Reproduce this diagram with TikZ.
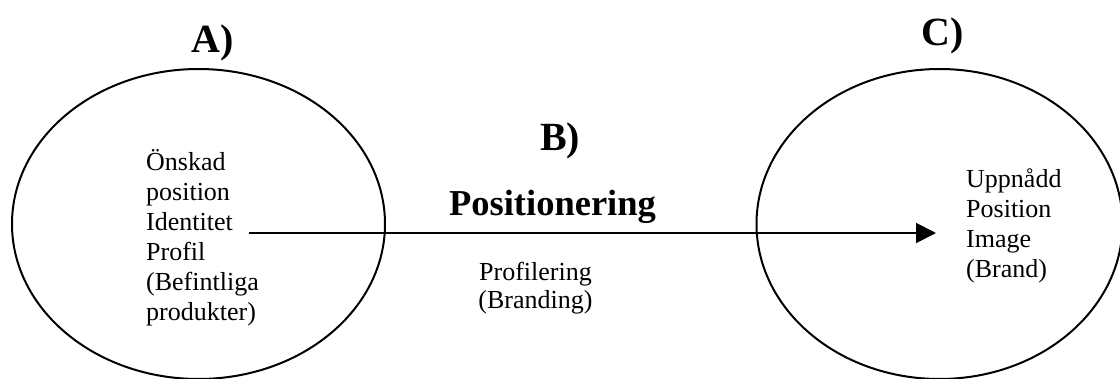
\documentclass[tikz,border=0pt]{standalone}
\usepackage{fontspec}
\setmainfont{Liberation Serif}
\usetikzlibrary{shapes.geometric,arrows.meta}
\begin{document}
\begin{tikzpicture}[x=1pt,y=-1pt,
  stage/.style={draw,ellipse,line width=2pt,inner sep=0pt},
  body/.style={inner sep=0pt,align=left,font=\fontsize{26}{30}\selectfont},
  mid/.style={inner sep=0pt,align=center,font=\fontsize{26}{28}\selectfont},
  label/.style={inner sep=0pt,anchor=base,font=\fontsize{40}{44}\selectfont\bfseries},
  title/.style={inner sep=0pt,anchor=base,font=\fontsize{36.5}{40}\selectfont\bfseries},
  flow/.style={line width=2pt,-{Triangle[length=20pt,width=20pt]}}]
\useasboundingbox (0,0) rectangle (1120,378);

% the two stages
\node[stage,minimum width=373pt,minimum height=310pt] (sA) at (198.5,224) {};
\node[stage,minimum width=366pt,minimum height=310pt] (sC) at (939.5,224) {};

% headings
\node[label] (lA) at (212.5,52) {A)};
\node[label] (lB) at (560,150) {B)};
\node[label] (lC) at (942.5,45) {C)};
\node[title] (pos) at (552.5,215) {Positionering};

% texts inside the stages (placed by the baseline of their last line)
\node[body,anchor=base west] (tA) at (146,320)
  {Önskad\\position\\Identitet\\Profil\\(Befintliga\\produkter)};
\node[body,anchor=base west] (tC) at (966,277)
  {Uppnådd\\Position\\Image\\(Brand)};
\node[mid,anchor=base] (tB) at (535.5,308) {Profilering\\(Branding)};

% the positioning arrow
\coordinate (from) at (249,233);
\coordinate (to) at (936,233);
\draw[flow] (from) -- (to);
\end{tikzpicture}
\end{document}
